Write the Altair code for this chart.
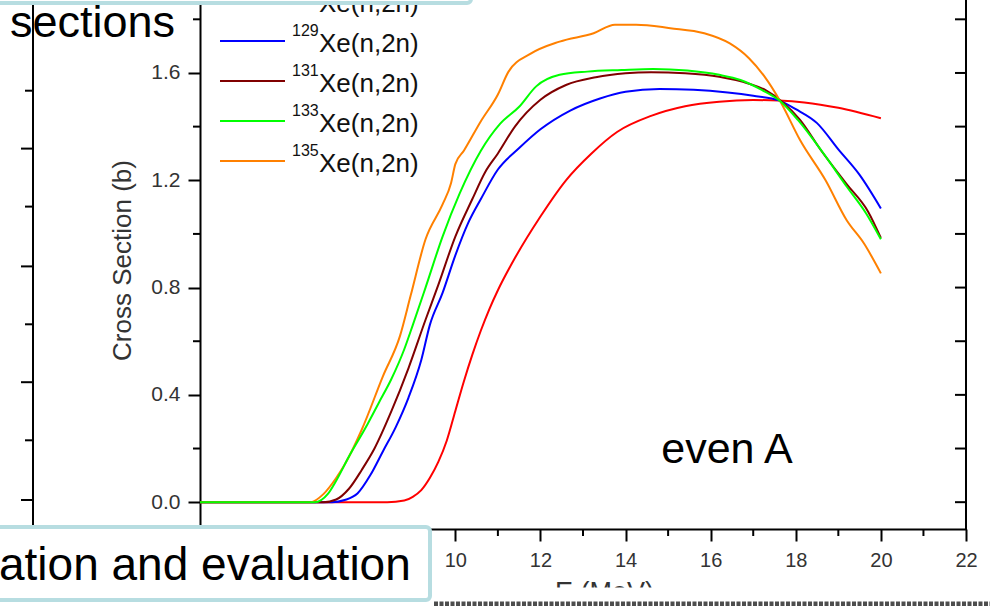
import altair as alt
import pandas as pd

FONT = "Liberation Sans"

# (n,2n) excitation functions: neutron energy (MeV) and cross section (b)
E_127 = [4.0, 8.4, 8.8, 9.0, 9.2, 9.4, 9.6, 9.8, 10.0, 10.2, 10.4, 10.6, 10.8, 11.0,
         11.4, 12.0, 12.6, 13.2, 13.8, 14.6, 15.4, 16.2, 17.0, 17.6, 18.2, 19.0, 20.0]
XS_127 = [0.0, 0.0, 0.006, 0.02, 0.045, 0.09, 0.15, 0.23, 0.34, 0.45, 0.55, 0.64, 0.72, 0.79,
          0.91, 1.065, 1.20, 1.30, 1.38, 1.44, 1.476, 1.493, 1.499, 1.497, 1.49, 1.47, 1.431]

E_129 = [4.0, 7.1, 7.4, 7.7, 8.0, 8.3, 8.6, 8.9, 9.2, 9.4, 9.7, 10.0, 10.3, 10.6, 11.0,
         11.5, 12.0, 12.7, 13.4, 14.0, 14.8, 15.6, 16.4, 17.0, 17.6, 18.0, 18.5, 19.0, 19.5, 20.0]
XS_129 = [0.0, 0.0, 0.008, 0.032, 0.10, 0.19, 0.28, 0.39, 0.53, 0.66, 0.78, 0.92, 1.04, 1.13, 1.24,
          1.32, 1.39, 1.46, 1.505, 1.53, 1.54, 1.537, 1.527, 1.515, 1.498, 1.465, 1.413, 1.315, 1.22, 1.095]

E_131 = [4.0, 6.9, 7.2, 7.5, 7.8, 8.1, 8.5, 8.9, 9.3, 9.6, 10.0, 10.4, 10.7, 11.0, 11.4,
         12.0, 12.6, 13.3, 14.0, 14.6, 15.4, 16.2, 16.9, 17.3, 17.7, 18.1, 18.6, 19.2, 19.7, 20.0]
XS_131 = [0.0, 0.0, 0.01, 0.05, 0.12, 0.20, 0.34, 0.50, 0.68, 0.81, 0.99, 1.13, 1.23, 1.30, 1.40,
          1.50, 1.555, 1.584, 1.599, 1.603, 1.599, 1.586, 1.56, 1.535, 1.49, 1.425, 1.31, 1.185, 1.083, 0.985]

E_133 = [4.0, 6.7, 7.0, 7.2, 7.5, 7.9, 8.2, 8.5, 8.8, 9.0, 9.3, 9.7, 10.1, 10.6, 11.05, 11.5,
         11.9, 12.45, 13.1, 13.9, 14.65, 15.45, 16.2, 16.7, 17.2, 17.65, 18.05, 18.65, 19.2, 19.65, 20.0]
XS_133 = [0.0, 0.0, 0.03, 0.08, 0.17, 0.28, 0.37, 0.46, 0.57, 0.66, 0.80, 0.99, 1.15, 1.31, 1.41, 1.474,
          1.55, 1.593, 1.605, 1.611, 1.615, 1.609, 1.593, 1.574, 1.537, 1.493, 1.425, 1.30, 1.176, 1.077, 0.98]

E_135 = [4.0, 6.6, 6.9, 7.2, 7.4, 7.8, 8.3, 8.7, 8.95, 9.3, 9.7, 9.9, 10.0, 10.2, 10.6, 11.0,
         11.25, 11.75, 12.45, 13.25, 13.75, 14.25, 15.05, 15.85, 16.45, 16.9, 17.25, 17.65, 18.1,
         18.7, 19.2, 19.6, 20.0]
XS_135 = [0.0, 0.0, 0.03, 0.09, 0.14, 0.27, 0.47, 0.62, 0.77, 0.98, 1.11, 1.19, 1.26, 1.31, 1.42, 1.52,
          1.605, 1.67, 1.717, 1.748, 1.78, 1.78, 1.767, 1.748, 1.71, 1.655, 1.59, 1.49, 1.35,
          1.20, 1.05, 0.965, 0.853]

MASS = ["127", "129", "131", "133", "135"]
REACTION = "Xe(n,2n)"

# axis ticks
X_MAJOR = [4, 6, 8, 10, 12, 14, 16, 18, 20, 22]
X_MINOR = [5, 7, 9, 11, 13, 15, 17, 19, 21]
Y_MAJOR = [0.0, 0.4, 0.8, 1.2, 1.6, 2.0]
Y_MINOR = [0.2, 0.6, 1.0, 1.4, 1.8]
Y_ALL = [0.0, 0.2, 0.4, 0.6, 0.8, 1.0, 1.2, 1.4, 1.6, 1.8]

COLORS = {"127": "#ff0000", "129": "#0000ff", "131": "#800000",
          "133": "#00ff00", "135": "#ff8000"}
CURVES = {"127": (E_127, XS_127), "129": (E_129, XS_129), "131": (E_131, XS_131),
          "133": (E_133, XS_133), "135": (E_135, XS_135)}
DRAW_ORDER = ["127", "129", "131", "135", "133"]

W, H = 766, 529
TEAL = "#b7dde1"
INK = "#333333"

xs = alt.Scale(domain=[4, 22], nice=False, zero=False)
ys = alt.Scale(domain=[-0.1, 1.872], nice=False, zero=False)

x_axis = alt.Axis(
    values=X_MAJOR, format="d", grid=False, tickSize=12, tickWidth=2, tickColor="black",
    domainColor="black", domainWidth=2, labelFont=FONT, labelFontSize=20, labelColor=INK,
    labelPadding=9, labelFlush=False, labelOverlap=False,
    # labels left of 10 MeV sit under the caption box
    labelExpr="datum.value >= 10 ? datum.label : ''",
    title="E (MeV)", titleFont=FONT, titleFontSize=27, titleFontWeight="normal",
    titleColor=INK, titleX=404, titleY=50, titleBaseline="top", titleAlign="center",
)
y_axis = alt.Axis(
    values=Y_MAJOR, format=".1f", grid=False, tickSize=12, tickWidth=2, tickColor="black",
    domainColor="black", domainWidth=2, labelFont=FONT, labelFontSize=21, labelColor=INK,
    labelPadding=8, labelFlush=False, labelOverlap=False,
    title="Cross Section (b)", titleFont=FONT, titleFontSize=26, titleFontWeight="normal",
    titleColor=INK, titleX=-70, titleY=260, titleBaseline="alphabetic", titleAlign="center",
)

one = pd.DataFrame({"k": [0]})


def deco():
    return alt.Chart(one)


layers = []

# excitation curves; the first one carries the axes
for n, m in enumerate(DRAW_ORDER):
    e, s = CURVES[m]
    df = pd.DataFrame({"E": e, "xs": s})
    layers.append(
        alt.Chart(df).mark_line(color=COLORS[m], strokeWidth=2, interpolate="monotone").encode(
            x=alt.X("E:Q", scale=xs, axis=x_axis if n == 0 else None),
            y=alt.Y("xs:Q", scale=ys, axis=y_axis if n == 0 else None),
            order="E:Q",
        )
    )

# minor ticks on bottom and left axes
layers.append(
    alt.Chart(pd.DataFrame({"v": X_MINOR})).mark_rule(color="black", strokeWidth=2).encode(
        x=alt.X("v:Q", scale=xs, axis=None), y=alt.value(H), y2=alt.value(H + 7))
)
layers.append(
    alt.Chart(pd.DataFrame({"v": Y_MINOR})).mark_rule(color="black", strokeWidth=2).encode(
        y=alt.Y("v:Q", scale=ys, axis=None), x=alt.value(-7), x2=alt.value(0))
)
# right frame with inward ticks
layers.append(
    deco().mark_rule(color="black", strokeWidth=2).encode(
        x=alt.value(W), y=alt.value(0), y2=alt.value(H + 1))
)
layers.append(
    alt.Chart(pd.DataFrame({"v": Y_ALL})).mark_rule(color="black", strokeWidth=2).encode(
        y=alt.Y("v:Q", scale=ys, axis=None), x=alt.value(W - 11), x2=alt.value(W))
)

# legend
for i, m in enumerate(MASS):
    yy = 1 + 40 * i
    layers.append(
        deco().mark_rule(color=COLORS[m], strokeWidth=2).encode(
            x=alt.value(20), x2=alt.value(85), y=alt.value(yy))
    )
    layers.append(
        deco().mark_text(align="left", baseline="alphabetic", font=FONT, fontSize=16,
                         color="#111111").encode(
            x=alt.value(92), y=alt.value(yy - 5), text=alt.value(m))
    )
    layers.append(
        deco().mark_text(align="left", baseline="alphabetic", font=FONT, fontSize=26,
                         color="#111111").encode(
            x=alt.value(119), y=alt.value(yy + 10.5), text=alt.value(REACTION))
    )

# panel label
layers.append(
    deco().mark_text(align="center", baseline="alphabetic", font=FONT, fontSize=43,
                     color="black").encode(
        x=alt.value(527), y=alt.value(463), text=alt.value("even A"))
)

# neighbouring panel's right frame
layers.append(
    deco().mark_rule(color="black", strokeWidth=2).encode(
        x=alt.value(-167), y=alt.value(0), y2=alt.value(525))
)
for k, ty in enumerate([90.7, 148.6, 206.6, 266.4, 324.3, 382.2, 440.3, 500.0]):
    tl = 12 if k % 2 else 8
    layers.append(
        deco().mark_rule(color="black", strokeWidth=2).encode(
            x=alt.value(-167 - tl), x2=alt.value(-167), y=alt.value(ty))
    )

# slide text boxes laid over the figure
layers.append(
    deco().mark_rect(fill="white", stroke=TEAL, strokeWidth=4, cornerRadius=4).encode(
        x=alt.value(-215), x2=alt.value(271), y=alt.value(-40), y2=alt.value(3))
)
layers.append(
    deco().mark_text(align="left", baseline="alphabetic", font=FONT, fontSize=45,
                     color="black").encode(
        x=alt.value(-190), y=alt.value(37), text=alt.value("sections"))
)
layers.append(
    deco().mark_rect(fill="white", stroke="white").encode(
        x=alt.value(232), x2=alt.value(W + 30), y=alt.value(588), y2=alt.value(610))
)
layers.append(
    deco().mark_rule(color="#4d4d4d", strokeWidth=5, strokeDash=[4, 1.5]).encode(
        x=alt.value(234), x2=alt.value(W + 24), y=alt.value(604))
)
layers.append(
    deco().mark_rect(fill="white", stroke=TEAL, strokeWidth=4, cornerRadius=4).encode(
        x=alt.value(-215), x2=alt.value(230), y=alt.value(527), y2=alt.value(600))
)
layers.append(
    deco().mark_text(align="left", baseline="alphabetic", font=FONT, fontSize=46,
                     color="black").encode(
        x=alt.value(-201), y=alt.value(580), text=alt.value("ation and evaluation"))
)

chart = alt.layer(*layers).resolve_axis(x="independent", y="independent").properties(
    width=W, height=H,
    padding={"left": 200, "top": 0, "right": 24, "bottom": 77},
    autosize=alt.AutoSizeParams(type="none"),
    background="white",
).configure_view(stroke=None)

chart.save("out.html", embed_options={"renderer": "svg", "actions": False})
